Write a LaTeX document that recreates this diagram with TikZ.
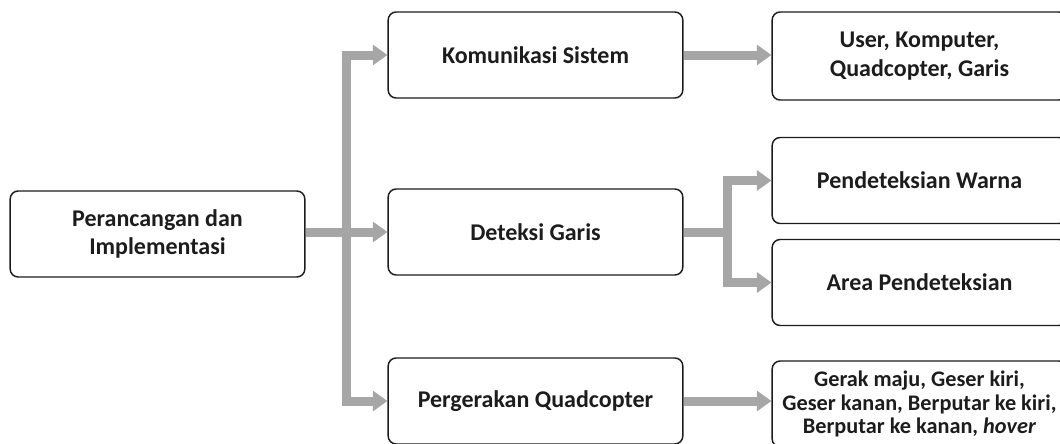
\documentclass[tikz,border=0pt]{standalone}
\usepackage{fontspec}
\setmainfont{Carlito}
\usepackage{xcolor}
\usepackage{tikz}
\usetikzlibrary{arrows.meta,calc}

\definecolor{flowgray}{HTML}{A6A6A6}
\definecolor{inkdark}{HTML}{1C1C1C}

\begin{document}
\begin{tikzpicture}[
  x=0.75pt, y=-0.75pt,
  box/.style={rectangle, draw=inkdark, line width=1.1pt, rounded corners=6pt,
              align=center, text=inkdark, inner sep=2pt,
              minimum width=221pt, minimum height=64.5pt,
              font=\fontsize{18}{21.5}\selectfont\bfseries},
  smallbox/.style={box, font=\fontsize{16.7}{17.6}\selectfont\bfseries},
  line/.style={draw=flowgray, line width=6.75pt},
  arr/.style={line, -{Triangle[length=11pt, width=15pt]}}
]
\useasboundingbox (0,0) rectangle (1060,443);
\clip (0,0) rectangle (1060,443);
\node[box] (root) at (157.5,234) {Perancangan dan\\Implementasi};
\node[box] (kom)  at (535.5,55)  {Komunikasi Sistem};
\node[box] (det)  at (535.5,232) {Deteksi Garis};
\node[box] (pq)   at (535.5,401) {Pergerakan Quadcopter};
\node[box, minimum height=66pt] (user) at (919.5,56) {User, Komputer,\\Quadcopter, Garis};
\node[box] (warna) at (919.5,180.5) {Pendeteksian Warna};
\node[box] (area)  at (919.5,282.5) {Area Pendeteksian};
\node[smallbox] (gerak) at (919.5,404) {Gerak maju, Geser kiri,\\Geser kanan, Berputar ke kiri,\\Berputar ke kanan, \textit{hover}};
\coordinate (split)  at ($(root.east)!0.5!(det.west)$);
\coordinate (split2) at ($(det.east)!0.5!(warna.west |- det.east)$);
\draw[arr] (root.east |- det.west) -- (det.west);
\draw[arr] (split) |- (kom.west);
\draw[arr] (split) |- (pq.west);
\draw[arr] (kom.east) -- (kom.east -| user.west);
\draw[line] (det.east) -- (split2);
\draw[arr] (split2) |- (warna.west);
\draw[arr] (split2) |- (area.west);
\draw[arr] (pq.east) -- (pq.east -| gerak.west);
\end{tikzpicture}
\end{document}
